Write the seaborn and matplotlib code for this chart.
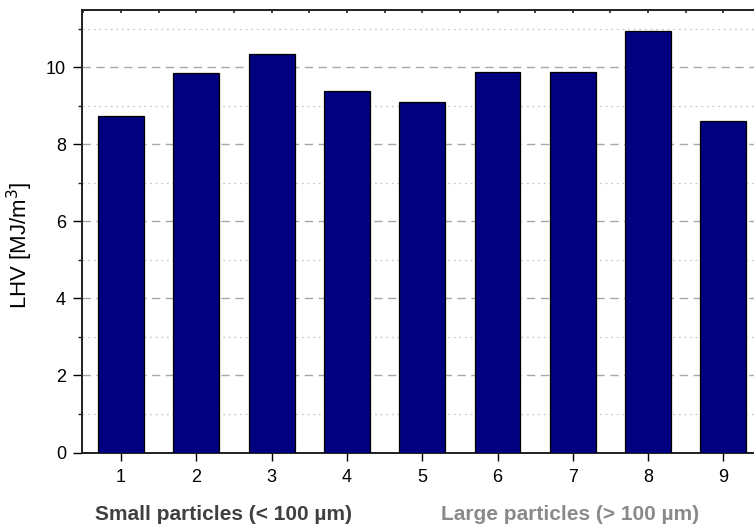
import matplotlib
matplotlib.use("Agg")
import matplotlib.pyplot as plt
from matplotlib.ticker import MultipleLocator, NullFormatter
import seaborn as sns
import pandas as pd

samples = [1, 2, 3, 4, 5, 6, 7, 8, 9]
lhv = [8.73, 9.85, 10.35, 9.38, 9.09, 9.87, 9.87, 10.95, 8.62]
group_labels = ["Small particles (< 100 \u00b5m)", "Large particles (> 100 \u00b5m)"]

sns.set_theme(style="white")
plt.rcParams["font.family"] = ["Liberation Sans", "DejaVu Sans"]

df = pd.DataFrame({"sample": samples, "lhv": lhv})

W, H = 754, 529
fig = plt.figure(figsize=(W / 100, H / 100), dpi=100)
ax = fig.add_axes([82 / W, (H - 452.5) / H, (W - 82) / W, (452.5 - 10) / H])

sns.barplot(data=df, x="sample", y="lhv", native_scale=True, width=0.61,
            color="#000080", saturation=1, edgecolor="black", linewidth=0.9,
            ax=ax, zorder=3)

ax.set_xlim(0.482, 9.406)
ax.set_ylim(0, 11.49)
ax.set_xticks(samples)
ax.set_xticklabels([str(s) for s in samples])
ax.yaxis.set_major_locator(MultipleLocator(2))
ax.yaxis.set_minor_locator(MultipleLocator(1))

ax.set_axisbelow(True)
ax.grid(axis="y", which="major", linestyle=(0, (6, 4)), color="#a8a8a8", linewidth=1.0, zorder=0)
ax.grid(axis="y", which="minor", linestyle=(0, (1.5, 3)), color="#c8c8c8", linewidth=0.9, zorder=0)
ax.grid(axis="x", visible=False)

for side in ["left", "bottom", "top"]:
    ax.spines[side].set_color("#202020")
    ax.spines[side].set_linewidth(1.4)
ax.spines["right"].set_visible(False)

ax.tick_params(axis="y", which="major", direction="out", length=6.5, width=1.0,
               labelsize=13, colors="black", left=True, pad=5)
ax.tick_params(axis="y", which="minor", direction="out", length=3, width=1.0, left=True)
ax.tick_params(axis="x", which="major", direction="out", length=6, width=1.0,
               labelsize=13, colors="black", bottom=True, top=False, pad=6)
ax.tick_params(axis="x", which="minor", bottom=False, top=False)

# small inward ticks along the top frame at every half step
top = ax.secondary_xaxis("top")
top.xaxis.set_major_locator(MultipleLocator(0.5))
top.xaxis.set_major_formatter(NullFormatter())
top.tick_params(direction="in", length=2.5, width=1.2, colors="#202020")
top.spines["top"].set_visible(False)

ax.set_xlabel("")
ax.set_ylabel("")
fig.text(20 / W, 1 - 245 / H, "LHV [MJ/m$^3$]", rotation=90, ha="center", va="center",
         fontsize=16, color="black")

fig.text(223 / W, 1 - 515 / H, group_labels[0], ha="center", va="center",
         fontsize=15, fontweight="bold", color="#404040")
fig.text(570 / W, 1 - 515 / H, group_labels[1], ha="center", va="center",
         fontsize=15, fontweight="bold", color="#8a8a8a")

fig.savefig("out.png", dpi=100)
